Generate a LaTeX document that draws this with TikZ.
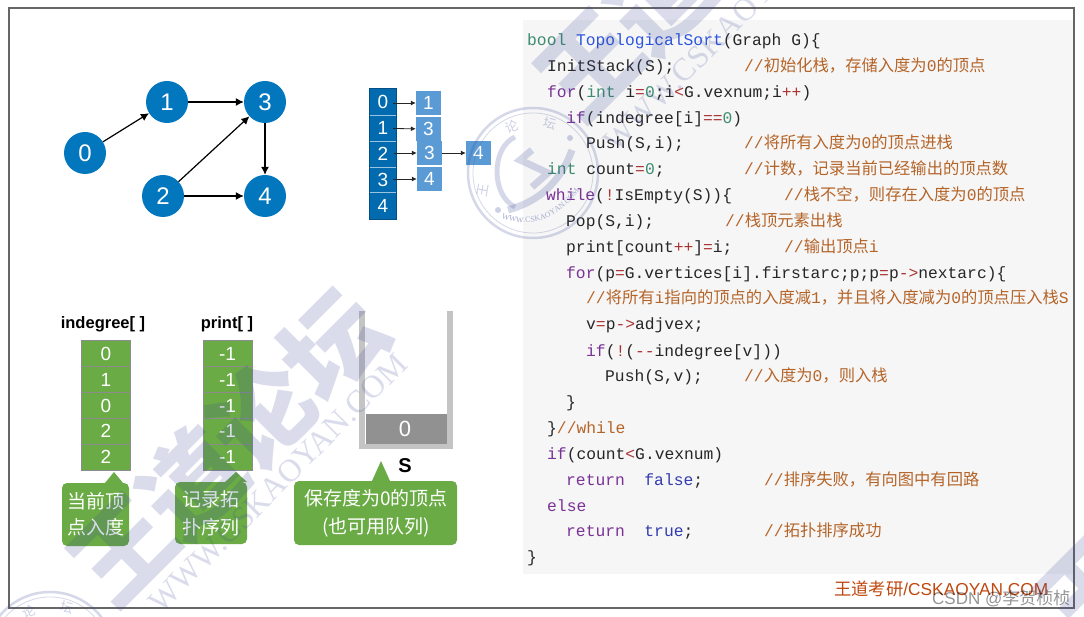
\documentclass[tikz,border=0pt]{standalone}
\usepackage{fontspec}
\usetikzlibrary{arrows.meta,decorations.text}
\setmainfont{Liberation Sans}
\newfontfamily\cjk{Noto Sans CJK SC}
\newfontfamily\codef{Liberation Mono}
\newfontfamily\serf{Liberation Serif}
\definecolor{nodeblue}{RGB}{2,119,189}
\definecolor{idxblue}{RGB}{2,106,174}
\definecolor{lightb}{RGB}{91,155,213}
\definecolor{grn}{RGB}{106,171,69}
\definecolor{kwc}{RGB}{122,50,150}
\definecolor{tyc}{RGB}{60,140,110}
\definecolor{fnc}{RGB}{45,85,225}
\definecolor{opc}{RGB}{170,50,50}
\definecolor{cmc}{RGB}{181,100,40}
\definecolor{lit}{RGB}{50,60,175}
\definecolor{wm}{RGB}{60,72,150}
\definecolor{ftc}{RGB}{192,72,15}
\newcommand{\kw}[1]{\textcolor{kwc}{#1}}
\newcommand{\ty}[1]{\textcolor{tyc}{#1}}
\newcommand{\fn}[1]{\textcolor{fnc}{#1}}
\newcommand{\op}[1]{\textcolor{opc}{#1}}
\newcommand{\lt}[1]{\textcolor{lit}{#1}}
\newcommand{\zh}[1]{{\cjk\fontsize{16.3}{16.3}\selectfont #1}}
\tikzset{
  x=1pt,y=-1pt,
  gnode/.style={circle,fill=nodeblue,minimum size=42pt,inner sep=0pt,text=white,font=\fontsize{24}{24}\selectfont},
  garc/.style={-{Latex[length=8pt,width=8pt]},line width=1.2pt,black},
  lnode/.style={fill=lightb,minimum width=25pt,minimum height=24pt,inner sep=0pt,text=white,font=\fontsize{19}{19}\selectfont},
  idx/.style={fill=idxblue,minimum width=26pt,minimum height=25.9pt,inner sep=0pt,text=white,font=\fontsize{19}{19}\selectfont},
  larc/.style={-{Latex[length=5pt,width=5pt]},line width=.8pt,black!85},
  arr/.style={fill=grn,draw=black!45,line width=.8pt,minimum width=49pt,minimum height=25.9pt,inner sep=0pt,text=white,font=\fontsize{19}{19}\selectfont},
  head/.style={font=\fontsize{16.5}{16.5}\selectfont\bfseries,text=black},
  code/.style={anchor=base west,inner sep=0pt,font=\codef\fontsize{16.3}{16.3}\selectfont,text=black!85},
  cmt/.style={code,text=cmc},
  calltxt/.style={text=white,align=center,inner sep=0pt,font=\cjk\fontsize{19}{26}\selectfont},
  wmchar/.style={text=wm,opacity=.19,rotate=45,inner sep=0pt,font=\cjk\fontsize{100}{100}\selectfont\bfseries},
  wmurl/.style={text=wm,opacity=.19,rotate=45,inner sep=0pt,font=\serf\fontsize{32}{32}\selectfont},
  wmseal/.style={draw=wm,draw opacity=.21,fill=none},
  wmsmall/.style={text=wm,opacity=.26,inner sep=0pt,font=\cjk\fontsize{13}{13}\selectfont},
}
\newcommand{\sealmark}[2]{%
  \begin{scope}[shift={(#1,#2)}]
  \draw[wmseal,line width=2.5pt] (0,0) circle (65);
  \draw[wmseal,line width=.8pt] (0,0) circle (60);
  \draw[wmseal,line width=5pt] (-18,-36) .. controls (-42,-25) and (-42,22) .. (-18,34);
  \draw[wmseal,line width=7pt] (-25,37) .. controls (0,30) and (25,15) .. (39,-23);
  \draw[wmseal,line width=7pt] (-1,-23) -- (-13,-13) -- (15,0) -- (-1,14);
  \fill[wm,opacity=.25] (37,-35) circle (3);
  \fill[wm,opacity=.25] (-35,37) circle (3);
  \node[wmsmall,rotate=20] at (-21,-46) {论};
  \node[wmsmall,rotate=-15] at (17,-50) {坛};
  \node[wmsmall,rotate=80] at (-50,17) {王};
  \path[postaction={decorate,decoration={text along path,text align=center,
     text={|\serf\fontsize{8}{8}\selectfont\color{wm!45}|WWW.CSKAOYAN.COM}}}]
     (-38,42) .. controls (-5,60) and (30,45) .. (50,12);
  \end{scope}}
\begin{document}
\begin{tikzpicture}
\useasboundingbox (0,0) rectangle (1084,617);
\fill[white] (0,0) rectangle (1084,617);
% code panel
\fill[black!3.5] (523,20) rectangle (1074,574);
% frame
\draw[black!60,line width=1.3pt] (9,8) rectangle (1074,608);
% graph
\node[gnode] (n0) at (85,153) {0};
\node[gnode] (n1) at (167,102) {1};
\node[gnode] (n3) at (265,102) {3};
\node[gnode] (n2) at (163,196) {2};
\node[gnode] (n4) at (265,196) {4};
\draw[garc] (n0) -- (n1);
\draw[garc] (n1) -- (n3);
\draw[garc] (n2) -- (n3);
\draw[garc] (n2) -- (n4);
\draw[garc] (n3) -- (n4);
% adjacency list
\node[idx] (i0) at (383,102) {0};
\node[idx] (i1) at (383,128) {1};
\node[idx] (i2) at (383,154) {2};
\node[idx] (i3) at (383,179.5) {3};
\node[idx] (i4) at (383,206) {4};
\draw[white!60!idxblue,line width=.7pt] (i0.south west) -- (i0.south east);
\draw[white!60!idxblue,line width=.7pt] (i1.south west) -- (i1.south east);
\draw[white!60!idxblue,line width=.7pt] (i2.south west) -- (i2.south east);
\draw[white!60!idxblue,line width=.7pt] (i3.south west) -- (i3.south east);
\draw[black!25!idxblue,line width=.7pt] (i0.north west) rectangle (i4.south east);
\node[lnode] (a0) at (428.5,103) {1};
\node[lnode] (a1) at (428.5,129) {3};
\node[lnode] (a2) at (429.5,153) {3};
\node[lnode] (a3) at (429.5,179) {4};
\node[lnode] (a4) at (478.5,153) {4};
\coordinate (s0) at (393,103);
\coordinate (s1) at (393,128.5);
\coordinate (s2) at (394,153);
\coordinate (s3) at (393,179);
\draw[larc] (s0) -- (a0);
\draw[larc] (s1) -- (a1);
\draw[larc] (s2) -- (a2);
\draw[larc] (s3) -- (a3);
\draw[larc] (a2) -- (a4);
% arrays
\node[head] (h1) at (103,324) {indegree[ ]};
\node[head] (h2) at (227,324) {print[ ]};
\foreach \nm/\yy/\tx in {p0/353.5/0,p1/379.5/1,p2/405.5/0,p3/431/2,p4/457/2}
  \node[arr] (\nm) at (106,\yy) {\tx};
\foreach \nm/\yy in {q0/353.5,q1/379.5,q2/405.5,q3/431,q4/457}
  \node[arr] (\nm) at (227.5,\yy) {-1};
% stack
\fill[black!23] (359,311) rectangle (365,449);
\fill[black!23] (447,311) rectangle (453,449);
\fill[black!23] (359,444) rectangle (453,449);
\node[fill=black!43,minimum width=81pt,minimum height=30pt,inner sep=0pt,text=white,font=\fontsize{22}{22}\selectfont] (st0) at (406.5,429) {\hspace{-3pt}0};
\node[font=\fontsize{20}{20}\selectfont\bfseries] (sl) at (405,466) {S};
% callouts
\fill[grn,rounded corners=5pt] (62,483) rectangle (129,546);
\fill[grn] (105,483) -- (114,472) -- (123,483) -- cycle;
\node[calltxt] (c1) at (96,514.5) {当前顶\\点入度};
\fill[grn,rounded corners=5pt] (175,482) rectangle (247,544);
\fill[grn] (225,482) -- (236,472) -- (247,482) -- cycle;
\node[calltxt] (c2) at (211,513) {记录拓\\[2pt]扑序列};
\fill[grn,rounded corners=5pt] (294,481) rectangle (457,545);
\fill[grn] (372,481) -- (381,461) -- (390,481) -- cycle;
\node[calltxt] (c3) at (376,513) {保存度为0的顶点\\[2pt](也可用队列)};
% code
\node[code] (l1) at (527,46) {\ty{bool} \fn{TopologicalSort}(Graph G)\{};
\node[code] (l2) at (547,72) {InitStack(S);};
\node[cmt] (k2) at (744,72) {//\zh{初始化栈，存储入度为}0\zh{的顶点}};
\node[code] (l3) at (547,98) {\kw{for}(\ty{int} i\op{=}\ty{0};i\op{<}G.vexnum;i\op{++})};
\node[code] (l4) at (566,123.5) {\kw{if}(indegree[i]\op{==}\ty{0})};
\node[code] (l5) at (586,149) {Push(S,i);};
\node[cmt] (k5) at (744,149) {//\zh{将所有入度为}0\zh{的顶点进栈}};
\node[code] (l6) at (547,175) {\ty{int} count\op{=}\ty{0};};
\node[cmt] (k6) at (744,175) {//\zh{计数，记录当前已经输出的顶点数}};
\node[code] (l7) at (546,201) {\kw{while}(\op{!}IsEmpty(S))\{};
\node[cmt] (k7) at (784,201) {//\zh{栈不空，则存在入度为}0\zh{的顶点}};
\node[code] (l8) at (566,227) {Pop(S,i);};
\node[cmt] (k8) at (725,227) {//\zh{栈顶元素出栈}};
\node[code] (l9) at (566,253) {print[count\op{++}]\op{=}i;};
\node[cmt] (k9) at (784,253) {//\zh{输出顶点}i};
\node[code] (l10) at (566,278.5) {\kw{for}(p\op{=}G.vertices[i].firstarc;p;p\op{=}p\op{->}nextarc)\{};
\node[cmt] (k11) at (586,304) {//\zh{将所有}i\zh{指向的顶点的入度减}1\zh{，并且将入度减为}0\zh{的顶点压入栈}S};
\node[code] (l12) at (586,330) {v\op{=}p\op{->}adjvex;};
\node[code] (l13) at (586,356) {\kw{if}(\op{!}(\op{-{}-}indegree[v]))};
\node[code] (l14) at (605,381.5) {Push(S,v);};
\node[cmt] (k14) at (744,381.5) {//\zh{入度为}0\zh{，则入栈}};
\node[code] (l15) at (566,407) {\}};
\node[code] (l16) at (547,433) {\}\textcolor{cmc}{//while}};
\node[code] (l17) at (547,459) {\kw{if}(count\op{<}G.vexnum)};
\node[code] (l18) at (566,485) {\kw{return}\ \ \lt{false};};
\node[cmt] (k18) at (764,485) {//\zh{排序失败，有向图中有回路}};
\node[code] (l19) at (547,511) {\kw{else}};
\node[code] (l20) at (566,536.5) {\kw{return}\ \ \lt{true};};
\node[cmt] (k20) at (764,536.5) {//\zh{拓扑排序成功}};
\node[code] (l21) at (527,562) {\}};
% footer
\node[anchor=base west,inner sep=0pt,text=ftc,font=\fontsize{17.3}{17.3}\selectfont] (ft) at (834,595) {{\cjk 王道考研}/CSKAOYAN.COM};
% watermarks
\node[wmchar] (w1) at (123,550) {王};
\node[wmchar] (w2) at (192,482) {道};
\node[wmchar] (w3) at (262,415) {论};
\node[wmchar] (w4) at (333,345) {坛};
\node[wmchar] (w5) at (590,65) {王};
\node[wmchar] (w6) at (660,-3) {道};
\node[wmchar] (w7) at (1090,590) {王};
\node[wmurl] (u1) at (278,483) {WWW.CSKAOYAN.COM};
\node[wmurl] (u2) at (733,22) {WWW.CSKAOYAN.COM};
\sealmark{533}{173}
\sealmark{50}{657}
% CSDN mark
\node[anchor=base west,inner sep=0pt,text=black,opacity=.42,font=\fontsize{17}{17}\selectfont] (cs) at (932,604) {CSDN @{\cjk 李贺桢桢}};
\end{tikzpicture}
\end{document}
